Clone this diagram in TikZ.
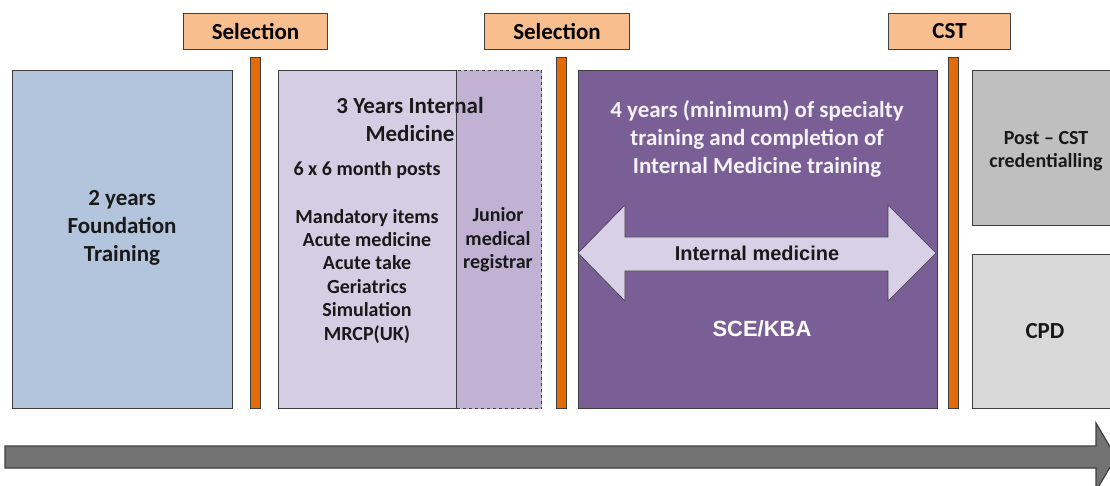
\documentclass[tikz,border=0pt]{standalone}
\usepackage{fontspec}
\setmainfont{Carlito}
\newfontfamily\arialfont{Liberation Sans}
\definecolor{foundblue}{HTML}{B3C5DD}
\definecolor{imlav}{HTML}{D5CDE3}
\definecolor{reglav}{HTML}{C1B2D4}
\definecolor{specpurple}{HTML}{7A5F97}
\definecolor{arrowlav}{HTML}{D8D0E6}
\definecolor{selorange}{HTML}{F9BE8E}
\definecolor{barorange}{HTML}{E36C09}
\definecolor{postgray}{HTML}{BFBFBF}
\definecolor{cpdgray}{HTML}{D9D9D9}
\definecolor{timegray}{HTML}{737373}
\definecolor{edge}{HTML}{3F3F3F}
\tikzset{
  stage/.style={draw=edge, line width=1, anchor=north west, inner sep=0},
  gate/.style={draw=edge, line width=1, fill=selorange, anchor=north west,
    minimum height=36, inner sep=0, font=\fontsize{23}{27}\selectfont\bfseries},
  bar/.style={draw=edge, line width=0.8, fill=barorange, anchor=north west,
    minimum width=10, minimum height=351, inner sep=0},
  big/.style={font=\fontsize{23}{28}\selectfont\bfseries, align=center, text=black!90},
  small/.style={font=\fontsize{20}{23.4}\selectfont\bfseries, align=center, text=black!90},
  arrowtxt/.style={font=\arialfont\fontsize{20}{24}\selectfont\bfseries, text=black!90},
}
\begin{document}
\begin{tikzpicture}[x=1pt, y=-1pt]
  \useasboundingbox (0,0) rectangle (1110,486);
  \clip (0,0) rectangle (1110,486);
  % decision points
  \node[gate, minimum width=144] (sel1) at (183,13) {Selection};
  \node[gate, minimum width=145] (sel2) at (484,13) {Selection};
  \node[gate, minimum width=122] (cst) at (888,13) {CST};
  \node[bar] (bar1) at (250,57) {};
  \node[bar] (bar2) at (556,57) {};
  \node[bar] (bar3) at (948,57) {};
  % stages
  \node[stage, fill=foundblue, minimum width=220, minimum height=338] (found) at (12,70) {};
  \node[stage, fill=imlav, minimum width=178, minimum height=338] (im) at (278,70) {};
  \node[stage, fill=reglav, dashed, minimum width=85, minimum height=338] (reg) at (456,70) {};
  \node[stage, fill=specpurple, minimum width=359, minimum height=338] (spec) at (578,70) {};
  \node[stage, fill=postgray, minimum width=150, minimum height=155] (post) at (972,70) {};
  \node[stage, fill=cpdgray, minimum width=150, minimum height=154] (cpd) at (972,254) {};
  % texts
  \node[big] (foundtxt) at (122,228) {2 years\\Foundation\\Training};
  \node[big] (imtitle) at (410,120) {3 Years Internal\\Medicine};
  \draw[edge, dashed, line width=0.8] (reg.north west) -- (reg.south west);
  \node[small, anchor=west] (posts) at (290,170) {6 x 6 month posts};
  \node[small] (items) at (367,276) {Mandatory items\\Acute medicine\\Acute take\\Geriatrics\\Simulation\\MRCP(UK)};
  \node[small] (regtxt) at (498,240) {Junior\\medical\\registrar};
  \node[big, text=white!92!specpurple] (spectxt) at (757,139) {4 years (minimum) of specialty\\training and completion of\\Internal Medicine training};
  \draw[edge, line width=0.6, fill=arrowlav] (578,253) -- (625,205) -- (625,237) -- (888,237)
    -- (888,205) -- (936,253) -- (888,301) -- (888,271) -- (625,271) -- (625,301) -- cycle;
  \node[arrowtxt] (imtxt) at (757,253) {Internal medicine};
  \node[arrowtxt, font=\arialfont\fontsize{22}{26}\selectfont\bfseries, text=white] (kba) at (762,329) {SCE/KBA};
  \node[small] (posttxt) at (1046,151) {Post -- CST\\credentialling};
  \node[big] (cpdtxt) at (1045,331) {CPD};
  % time line
  \draw[edge, line width=1.2, fill=timegray] (5,446) -- (1096,446) -- (1096,423) -- (1116,457)
    -- (1096,491) -- (1096,468) -- (5,468) -- cycle;
\end{tikzpicture}
\end{document}
